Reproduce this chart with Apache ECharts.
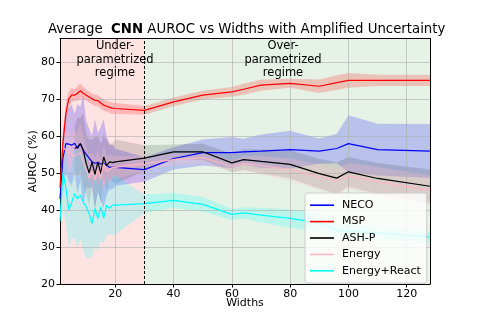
<!DOCTYPE html>
<html><head><meta charset="utf-8">
<script src="https://cdn.jsdelivr.net/npm/echarts@6/dist/echarts.min.js"></script>
<style>html,body{margin:0;padding:0;background:#fff}#c{width:478px;height:319px}</style>
</head><body><div id="c"></div>
<script>
const widths = [1,2,3,4,5,6,7,8,9,10,11,12,13,14,15,16,17,18,19,20,30,40,50,60,64,70,80,90,96,100,110,128];
const neco = [43,54,57.9,57.8,57.5,58,56.6,57.9,56.1,55,54,53,52.6,52.8,52.4,52.6,52,51.5,51.6,51.5,50.9,53.9,55.5,55.5,55.7,55.9,56.3,55.9,56.6,57.9,56.3,55.9];
const necoStd = [4,7,8,10,11,8,12,10,15,9,8,7,12,8,10,12,8,6,6,5,3.3,3,3.5,4.2,3.5,4.5,5.1,3.4,4,7.7,7,7.3];
const msp = [46,58,66,70,71,71,71.5,72.2,71.5,71,70.5,70,69.6,69.5,68.9,68.3,68,67.7,67.5,67.4,66.9,69.2,71,71.9,72.6,73.7,74.2,73.4,74.4,75,75,75];
const mspStd = [3,3,2.5,2,2,1.5,2,2,1.8,1.5,1.5,1.5,1.5,1.5,1.5,1.5,1.5,1.5,1.5,1.5,1.2,1.2,1.2,1.3,1.5,1.5,1.2,1.8,2,2,1.5,1.5];
const ash = [null,null,null,null,null,56.6,57,57.9,56.1,52.5,50,53,49.6,53,49.8,54.3,52,53,52.8,53,54,55.7,55.7,52.7,53.6,53.1,52.3,49.8,48.6,50.3,48.5,46.4];
const ashStd = [null,null,null,null,null,6,8,7,10,8,9,6,10,7,8,6,7,5,5,6,3.5,2,2.2,2.5,2.8,3.2,3.8,4,4.2,4,4.2,4.5];
const energy = [null,57,56,55.5,55,54.5,55,55.5,53,51,48.5,50.5,48,51,48.5,52.5,50.5,51,51.5,51.5,52.5,53.6,54.1,51.8,52.5,52,50.9,48.9,47.8,49.2,47.6,45.3];
const energyStd = [null,5,5,6,5,7,6,8,7,6,6,5,6,5,5,5,4,4,3,3,2,1.5,1.5,1.5,2,2.5,3,3.5,3.5,3.5,4,4];
const react = [37,50,46,40,42,44.4,43,44,42,40.8,39,36.3,40.4,37.7,40.8,37.7,41.3,40.4,41.3,41.3,41.7,42.6,41.5,38.8,39.2,38.6,37.7,36.5,34.5,34.3,33.8,32.7];
const reactStd = [4,10,10,10,10,12,13,12,13,14,12,9,10,9,9,7,8,7,8,8,2.5,2,2,1.5,1.5,2,2.5,2.5,2,2,1.8,1.5];
const xTicks = [20,40,60,80,100,120];
const regions = [[1,30,'rgba(255,0,0,0.11)'],[30,128,'rgba(0,128,0,0.1)']];
const X_MIN = 1, X_MAX = 128, Y_MIN = 20, Y_MAX = 86.3;

const chart = echarts.init(document.getElementById('c'), null, {renderer:'canvas'});
function pairs(arr){ return widths.map((w,i)=>[w,arr[i]]).filter(p=>p[1]!=null); }
function band(mean, std, color){
  const pts = [];
  widths.forEach((w,i)=>{ if(mean[i]!=null) pts.push([w, mean[i]-std[i], mean[i]+std[i]]); });
  return {type:'custom', silent:true, z:1, data:pts, encode:{x:0,y:[1,2]}, clip:true,
    renderItem:(params, api)=>{
      if(params.dataIndex!==0) return null;
      const up = pts.map(p=>api.coord([p[0],p[2]]));
      const lo = pts.map(p=>api.coord([p[0],p[1]])).reverse();
      return {type:'polygon', shape:{points:up.concat(lo)}, style:{fill:color}};
    }};
}
function line(name, arr, color, width){
  return {type:'line', name, data:pairs(arr), showSymbol:false, symbol:'none', z:3,
    lineStyle:{color, width}, itemStyle:{color}, animation:false};
}
const font = 'DejaVu Sans';
const series = [
  {type:'custom', silent:true, z:0, data:regions.map(r=>[r[0],r[1]]), encode:{x:[0,1]},
   renderItem:(params, api)=>{
     const r = regions[params.dataIndex];
     const a = api.coord([r[0], Y_MAX]); const b = api.coord([r[1], Y_MIN]);
     return {type:'rect', shape:{x:a[0], y:a[1], width:b[0]-a[0], height:b[1]-a[1]}, style:{fill:r[2]}};
   }},
  band(neco, necoStd, 'rgba(0,0,255,0.2)'),
  band(msp, mspStd, 'rgba(255,0,0,0.2)'),
  band(ash, ashStd, 'rgba(0,0,0,0.13)'),
  band(energy, energyStd, 'rgba(255,192,203,0.3)'),
  band(react, reactStd, 'rgba(0,255,255,0.2)'),
  line('NECO', neco, '#0000ff', 1.2),
  Object.assign(line('MSP', msp, '#ff0000', 1.2), {markLine:{silent:true, symbol:'none', animation:false,
     label:{show:false}, lineStyle:{color:'#000', type:[3,2], width:1}, data:[{xAxis:30}]}}),
  line('ASH-P', ash, '#000000', 1.2),
  line('Energy', energy, '#ffb6c1', 1.2),
  line('Energy+React', react, '#00ffff', 1.2)
];
chart.setOption({
  animation:false,
  textStyle:{fontFamily:font},
  title:{left:43, top:18, textStyle:{fontFamily:font, fontSize:13.3, fontWeight:'normal', color:'#000',
    rich:{b:{fontFamily:font, fontSize:13.3, fontWeight:'bold', color:'#000'}}},
    text:'Average  {b|CNN} AUROC vs Widths with Amplified Uncertainty'},
  grid:{left:60, right:48, top:38.5, bottom:35},
  legend:{orient:'vertical', left:305, top:193, data:['NECO','MSP','ASH-P','Energy','Energy+React'],
    icon:'rect', itemWidth:24, itemHeight:1.6, itemGap:0, padding:[4,6,4,5],
    backgroundColor:'rgba(255,255,255,0.8)', borderColor:'#cccccc', borderWidth:1, borderRadius:3,
    textStyle:{fontFamily:font, fontSize:11, color:'#000', lineHeight:16.4, padding:[0,0,0,3]}},
  xAxis:[{type:'value', min:X_MIN, max:X_MAX, z:2, name:'Widths', nameLocation:'middle', nameGap:14, nameMoveOverlap:false,
    nameTextStyle:{fontFamily:font, fontSize:11, color:'#000'},
    axisLine:{show:true, onZero:false, lineStyle:{color:'#000', width:1}},
    axisTick:{show:true, length:3.5, customValues:xTicks, lineStyle:{color:'#000'}},
    axisLabel:{customValues:xTicks, fontFamily:font, fontSize:11, color:'#000', margin:5},
    splitLine:{show:true, lineStyle:{color:'#b0b0b0', width:0.8, opacity:0.8}}},
   {type:'value', position:'top', min:X_MIN, max:X_MAX, z:2, axisLine:{show:true, onZero:false, lineStyle:{color:'#000', width:1}},
    axisTick:{show:false}, axisLabel:{show:false}, splitLine:{show:false}}],
  yAxis:[{type:'value', min:Y_MIN, max:Y_MAX, interval:10, z:2, name:'AUROC (%)', nameLocation:'middle', nameGap:21, nameMoveOverlap:false,
    nameTextStyle:{fontFamily:font, fontSize:11, color:'#000'},
    axisLine:{show:true, onZero:false, lineStyle:{color:'#000', width:1}},
    axisTick:{show:true, length:3.5, lineStyle:{color:'#000'}},
    axisLabel:{fontFamily:font, fontSize:11, color:'#000', margin:5, showMaxLabel:false,
      formatter:v=> (Math.abs(v%10)<1e-6 ? String(v) : '')},
    splitLine:{show:true, lineStyle:{color:'#b0b0b0', width:0.8, opacity:0.8}}},
   {type:'value', position:'right', min:Y_MIN, max:Y_MAX, z:2, axisLine:{show:true, onZero:false, lineStyle:{color:'#000', width:1}},
    axisTick:{show:false}, axisLabel:{show:false}, splitLine:{show:false}}],
  graphic:[
    {type:'text', x:115, y:39, z:10, silent:true, style:{text:'Under-\nparametrized\nregime', align:'center', fontFamily:font, fontSize:11.5, lineHeight:13.8, fill:'#000'}},
    {type:'text', x:283, y:39, z:10, silent:true, style:{text:'Over-\nparametrized\nregime', align:'center', fontFamily:font, fontSize:11.5, lineHeight:13.8, fill:'#000'}}
  ],
  series
});
</script></body></html>
